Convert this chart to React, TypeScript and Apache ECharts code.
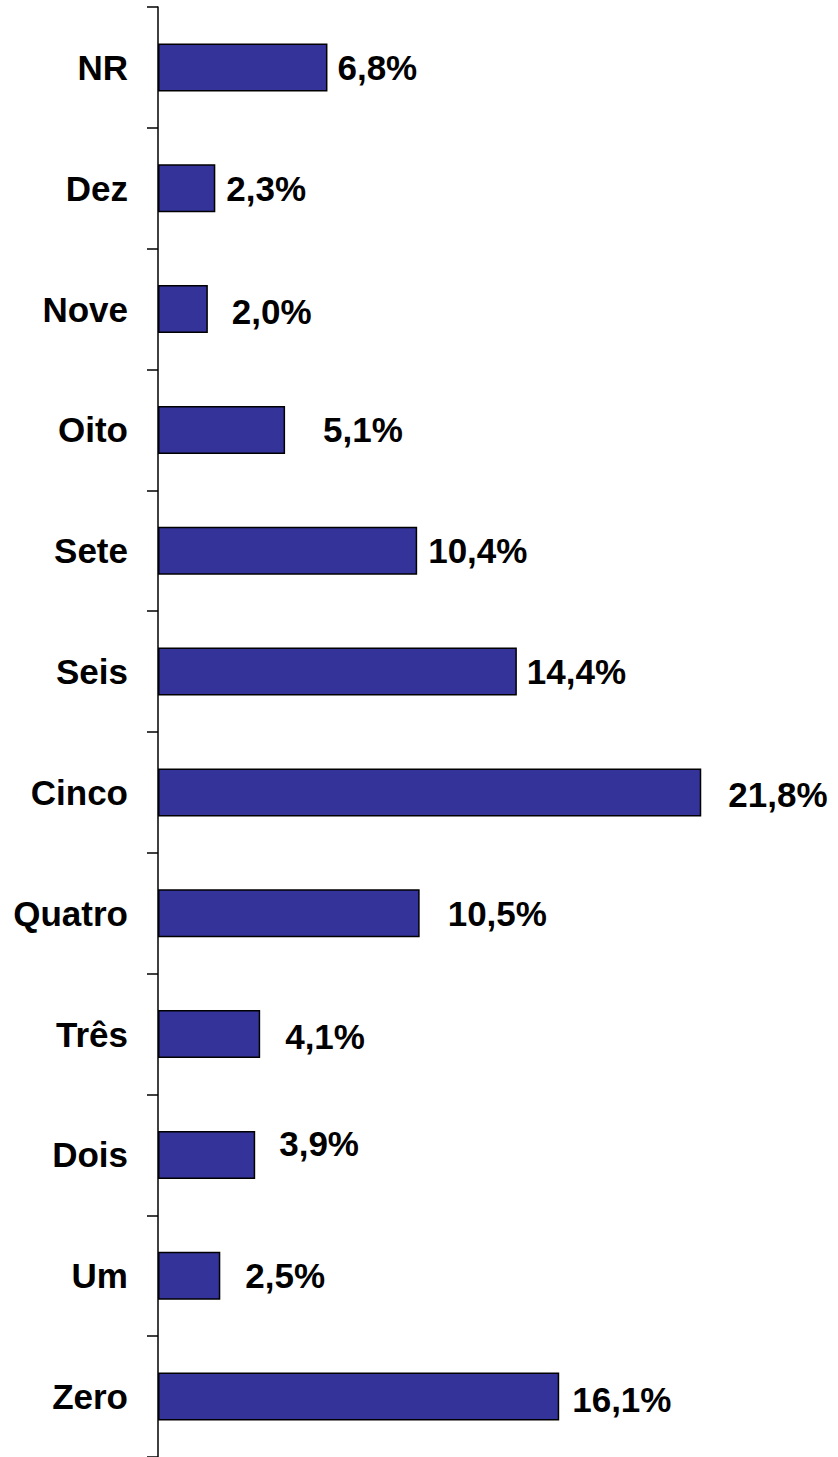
import React, { useEffect, useRef } from "react";
import * as echarts from "echarts";

// Categories listed bottom → top
const categories = ["Zero", "Um", "Dois", "Três", "Quatro", "Cinco", "Seis", "Sete", "Oito", "Nove", "Dez", "NR"];
const percentages = [16.1, 2.5, 3.9, 4.1, 10.5, 21.8, 14.4, 10.4, 5.1, 2.0, 2.3, 6.8];
// manual label nudges from the original (gap to bar end, vertical shift)
const labelGaps = [13, 25, 24, 25, 28, 27, 10, 11, 38, 24, 11, 10];
const labelShifts = [3, 0, -11, 2, 0, 2, 0, 0, 0, 2, 0, 0];

const FONT = "'Liberation Sans', Arial, Helvetica, sans-serif";

export default function App() {
  const ref = useRef<HTMLDivElement>(null);
  useEffect(() => {
    if (!ref.current) return;
    const chart = echarts.init(ref.current, null, { renderer: "svg" });
    chart.setOption({
      animation: false,
      backgroundColor: "#ffffff",
      grid: { left: 158, right: 57, top: 7, bottom: 0, containLabel: false },
      xAxis: {
        type: "value",
        min: 0,
        max: 25,
        show: false,
      },
      yAxis: {
        type: "category",
        data: categories,
        axisLine: { show: true, lineStyle: { color: "#000000", width: 1.5 } },
        axisTick: { show: true, inside: false, length: 11, lineStyle: { color: "#000000", width: 1.5 } },
        axisLabel: {
          margin: 30,
          color: "#000000",
          fontSize: 35,
          fontWeight: "bold",
          fontFamily: FONT,
        },
        splitLine: { show: false },
      },
      series: [
        {
          type: "bar",
          barWidth: 48,
          data: percentages.map((v, i) => ({
            value: v,
            label: {
              distance: labelGaps[i],
              offset: [0, labelShifts[i]],
            },
          })),
          itemStyle: { color: "#333399", borderColor: "#000000", borderWidth: 1.5 },
          label: {
            show: true,
            position: "right",
            color: "#000000",
            fontSize: 35,
            fontWeight: "bold",
            fontFamily: FONT,
            formatter: (p: any) => p.value.toFixed(1).replace(".", ",") + "%",
          },
        },
      ],
    });
    return () => chart.dispose();
  }, []);
  return (
    <div
      ref={ref}
      style={{ position: "absolute", left: 0, top: 0, width: 838, height: 1457, background: "#fff" }}
    />
  );
}
